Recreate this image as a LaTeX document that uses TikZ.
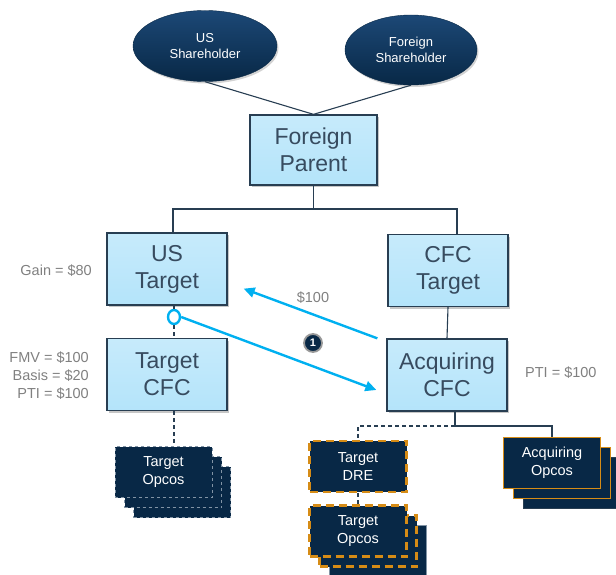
\documentclass[tikz,border=0pt]{standalone}
\usepackage{fontspec}
\setmainfont{Liberation Sans}
\usetikzlibrary{shapes.geometric,arrows.meta,shadows}

\definecolor{navy}{RGB}{8,40,70}
\definecolor{navytop}{RGB}{28,72,118}
\definecolor{boxblue}{RGB}{180,228,250}
\definecolor{boxedge}{RGB}{40,62,82}
\definecolor{boxtext}{RGB}{55,75,95}
\definecolor{arrowblue}{RGB}{0,176,240}
\definecolor{labelgrey}{RGB}{128,128,128}
\definecolor{opcoorange}{RGB}{214,140,22}
\definecolor{opcoedge}{RGB}{130,148,165}

\tikzset{
  holder/.style={ellipse, draw=navy, top color=navytop, bottom color=navy,
    text=white, align=center, inner sep=0pt,
    minimum width=144pt, minimum height=71pt,
    font=\fontsize{13}{16}\selectfont,
    drop shadow={shadow xshift=1.5pt, shadow yshift=-2pt, opacity=.35}},
  entity/.style={rectangle, draw=boxedge, line width=1.3pt,
    top color=boxblue!75!white, bottom color=boxblue,
    text=boxtext, align=center, inner sep=0pt,
    minimum width=120pt, minimum height=72pt,
    font=\fontsize{23}{27}\selectfont,
    drop shadow={shadow xshift=2pt, shadow yshift=-2pt, opacity=.45}},
  opco/.style={rectangle, fill=navy, text=white, align=center, inner sep=0pt,
    minimum width=97pt, minimum height=51pt,
    font=\fontsize{14.5}{18}\selectfont},
  opcodash/.style={opco, draw=opcoedge, line width=.8pt, dashed},
  opcoDRE/.style={opco, draw=opcoorange, line width=2.4pt,
    dash pattern=on 8pt off 5pt},
  opcoacq/.style={opco, draw=opcoorange, line width=1.8pt},
  note/.style={text=labelgrey, align=right, inner sep=0pt,
    font=\fontsize{14.5}{18}\selectfont},
  link/.style={draw=boxedge, line width=1.1pt},
  linkdash/.style={draw=boxedge, line width=1.1pt, dash pattern=on 4pt off 3pt},
  flow/.style={draw=arrowblue, line width=2.4pt,
    -{Triangle[length=11pt,width=10pt]}}
}

\begin{document}
\begin{tikzpicture}[x=1pt, y=-1pt]
  \useasboundingbox (0,0) rectangle (616,575);

  % Shareholders
  \node[holder] (ush) at (205,46) {US\\Shareholder};
  \node[holder, minimum width=132pt, minimum height=70pt] (fsh) at (411,50) {Foreign\\Shareholder};

  % Parent and targets
  \node[entity, minimum width=127pt, minimum height=70pt] (fp) at (313.5,150) {Foreign\\Parent};
  \node[entity] (ustgt) at (167,269) {US\\Target};
  \node[entity] (cfct) at (448,270.5) {CFC\\Target};
  \node[entity] (tcfc) at (167,374.5) {Target\\CFC};
  \node[entity] (acq) at (447,375) {Acquiring\\CFC};

  % Left opcos stack
  \node[opcodash] (opL3) at (182,492) {};
  \node[opcodash] (opL2) at (173,482) {};
  \node[opcodash] (opL1) at (163.5,472) {Target\\Opcos};

  % Target DRE and its opcos
  \node[opcoDRE] (dre) at (358,466.5) {Target\\DRE};
  \node[opco, draw=opcoedge, line width=.8pt] (opM3) at (378,551) {};
  \node[opcoDRE] (opM2) at (368,541) {};
  \node[opcoDRE] (opM1) at (358,531) {Target\\Opcos};

  % Acquiring opcos stack
  \node[opco, draw=boxedge, line width=1pt] (opR3) at (572,483) {};
  \node[opcoacq] (opR2) at (562,473) {};
  \node[opcoacq] (opR1) at (552,463) {Acquiring\\Opcos};

  % Labels
  \node[note, anchor=east] (gain) at (92,271) {Gain = \$80};
  \node[note, anchor=east] (vals) at (89,376) {FMV = \$100\\Basis = \$20\\PTI = \$100};
  \node[note, anchor=west] (pti) at (525,373) {PTI = \$100};
  \node[note] (cash) at (313,298) {\$100};
  \node[circle, fill=navy, draw=labelgrey!80, line width=1.8pt, text=white,
    inner sep=0pt, minimum size=18pt, font=\fontsize{11}{11}\selectfont\bfseries] (badge) at (313,343) {1};

  % Ownership lines
  \coordinate (splitL) at (173,209);
  \coordinate (splitR) at (457,209);
  \coordinate (acqsplit) at (455,426);
  \draw[link] (ush.south) -- (fp.north);
  \draw[link] (fsh.south) -- (fp.north);
  \draw[link] (fp.south) -- (fp.south |- splitL);
  \draw[link] (ustgt.north -| splitL) -- (splitL) -- (splitR) -- (cfct.north -| splitR);
  \draw[link] (cfct.south) -- (acq.north);
  \draw[link] (acq.south -| acqsplit) -- (acqsplit) -| (opR1.north);
  \draw[linkdash] (acqsplit) -| (dre.north);
  \draw[linkdash] (dre.south) -- (opM1.north);

  % Target CFC chain
  \node[ellipse, draw=arrowblue, line width=2.4pt, inner sep=0pt,
    minimum width=12pt, minimum height=14pt] (pin) at (174,317) {};
  \draw[linkdash] (ustgt.south -| pin) -- (pin.north);
  \draw[linkdash] (pin.south) -- (tcfc.north -| pin);
  \draw[linkdash] (tcfc.south -| pin) -- (opL1.north -| pin);

  % Transfers
  \draw[flow] ([xshift=-9pt]acq.north west) -- ([xshift=16pt,yshift=17pt]ustgt.south east);
  \draw[flow] (pin.east) -- ([xshift=-10pt,yshift=-15pt]acq.west);
\end{tikzpicture}
\end{document}
